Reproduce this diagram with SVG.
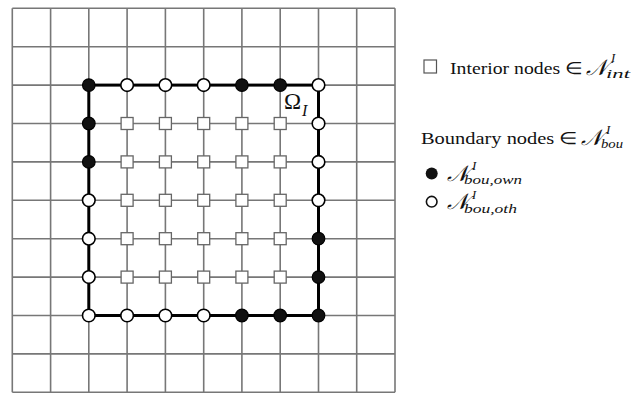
<svg xmlns="http://www.w3.org/2000/svg" width="644" height="393" viewBox="0 0 644 393">
<style>
.g{stroke:#777;stroke-width:1.6;fill:none}
.b{stroke:#000;stroke-width:3;fill:none}
.f{fill:#111;stroke:#000;stroke-width:1.2}
.o{fill:#fff;stroke:#000;stroke-width:1.6}
.sq{fill:#fff;stroke:#666;stroke-width:1.3}
</style>
<rect width="644" height="393" fill="#fff"/>
<g id="grid">
<path class="g" d="M12.3 8.3V392.3M50.6 8.3V392.3M88.8 8.3V392.3M127.1 8.3V392.3M165.4 8.3V392.3M203.7 8.3V392.3M241.9 8.3V392.3M280.2 8.3V392.3M318.5 8.3V392.3M356.7 8.3V392.3M395 8.3V392.3"/>
<path class="g" d="M12.3 8.3H395M12.3 46.7H395M12.3 85.1H395M12.3 123.5H395M12.3 161.9H395M12.3 200.3H395M12.3 238.7H395M12.3 277.1H395M12.3 315.5H395M12.3 353.9H395M12.3 392.3H395"/>
</g>
<g id="boundary">
<rect class="b" x="88.8" y="85.1" width="229.7" height="230.4"/>
</g>
<g id="interior-nodes">
<rect class="sq" x="121.1" y="117.5" width="12" height="12"/><rect class="sq" x="159.4" y="117.5" width="12" height="12"/><rect class="sq" x="197.7" y="117.5" width="12" height="12"/><rect class="sq" x="235.9" y="117.5" width="12" height="12"/><rect class="sq" x="274.2" y="117.5" width="12" height="12"/>
<rect class="sq" x="121.1" y="155.9" width="12" height="12"/><rect class="sq" x="159.4" y="155.9" width="12" height="12"/><rect class="sq" x="197.7" y="155.9" width="12" height="12"/><rect class="sq" x="235.9" y="155.9" width="12" height="12"/><rect class="sq" x="274.2" y="155.9" width="12" height="12"/>
<rect class="sq" x="121.1" y="194.3" width="12" height="12"/><rect class="sq" x="159.4" y="194.3" width="12" height="12"/><rect class="sq" x="197.7" y="194.3" width="12" height="12"/><rect class="sq" x="235.9" y="194.3" width="12" height="12"/><rect class="sq" x="274.2" y="194.3" width="12" height="12"/>
<rect class="sq" x="121.1" y="232.7" width="12" height="12"/><rect class="sq" x="159.4" y="232.7" width="12" height="12"/><rect class="sq" x="197.7" y="232.7" width="12" height="12"/><rect class="sq" x="235.9" y="232.7" width="12" height="12"/><rect class="sq" x="274.2" y="232.7" width="12" height="12"/>
<rect class="sq" x="121.1" y="271.1" width="12" height="12"/><rect class="sq" x="159.4" y="271.1" width="12" height="12"/><rect class="sq" x="197.7" y="271.1" width="12" height="12"/><rect class="sq" x="235.9" y="271.1" width="12" height="12"/><rect class="sq" x="274.2" y="271.1" width="12" height="12"/>
</g>
<g id="boundary-own">
<circle class="f" cx="88.8" cy="85.1" r="6.3"/><circle class="f" cx="241.9" cy="85.1" r="6.3"/><circle class="f" cx="280.2" cy="85.1" r="6.3"/>
<circle class="f" cx="88.8" cy="123.5" r="6.3"/><circle class="f" cx="88.8" cy="161.9" r="6.3"/>
<circle class="f" cx="318.5" cy="238.7" r="6.3"/><circle class="f" cx="318.5" cy="277.1" r="6.3"/><circle class="f" cx="318.5" cy="315.5" r="6.3"/>
<circle class="f" cx="241.9" cy="315.5" r="6.3"/><circle class="f" cx="280.2" cy="315.5" r="6.3"/>
</g>
<g id="boundary-oth">
<circle class="o" cx="127.1" cy="85.1" r="6.3"/><circle class="o" cx="165.4" cy="85.1" r="6.3"/><circle class="o" cx="203.7" cy="85.1" r="6.3"/><circle class="o" cx="318.5" cy="85.1" r="6.3"/>
<circle class="o" cx="318.5" cy="123.5" r="6.3"/><circle class="o" cx="318.5" cy="161.9" r="6.3"/><circle class="o" cx="318.5" cy="200.3" r="6.3"/>
<circle class="o" cx="88.8" cy="200.3" r="6.3"/><circle class="o" cx="88.8" cy="238.7" r="6.3"/><circle class="o" cx="88.8" cy="277.1" r="6.3"/><circle class="o" cx="88.8" cy="315.5" r="6.3"/>
<circle class="o" cx="127.1" cy="315.5" r="6.3"/><circle class="o" cx="165.4" cy="315.5" r="6.3"/><circle class="o" cx="203.7" cy="315.5" r="6.3"/>
</g>
<g id="omega-label" font-family="Liberation Serif, serif" fill="#111">
<text x="284" y="109" font-size="23">Ω</text>
<text x="302" y="116" font-size="16" font-style="italic">I</text>
</g>
<g id="legend-interior" font-family="Liberation Serif, serif" fill="#111">
<rect x="424" y="60" width="12.5" height="13" fill="#fff" stroke="#555" stroke-width="1.2"/>
<text x="450" y="73.5" font-size="16.5" textLength="133" lengthAdjust="spacingAndGlyphs">Interior nodes ∈</text>
<text x="586" y="75" font-size="22" font-style="italic">𝒩</text>
<text x="611" y="62" font-size="13" font-style="italic">I</text>
<text x="606" y="78" font-size="12" font-style="italic" textLength="24" lengthAdjust="spacingAndGlyphs">int</text>
</g>
<g id="legend-boundary" font-family="Liberation Serif, serif" fill="#111">
<text x="421" y="143.5" font-size="16.5" textLength="157" lengthAdjust="spacingAndGlyphs">Boundary nodes ∈</text>
<text x="581" y="144.5" font-size="22" font-style="italic">𝒩</text>
<text x="606" y="133.5" font-size="13" font-style="italic">I</text>
<text x="601" y="148" font-size="12" font-style="italic" textLength="22" lengthAdjust="spacingAndGlyphs">bou</text>
</g>
<g id="legend-own" font-family="Liberation Serif, serif" fill="#111">
<circle cx="431.7" cy="173.5" r="6" fill="#111"/>
<text x="447" y="180.5" font-size="22" font-style="italic">𝒩</text>
<text x="472" y="170" font-size="13" font-style="italic">I</text>
<text x="464" y="184" font-size="11.5" font-style="italic" textLength="58" lengthAdjust="spacingAndGlyphs">bou,own</text>
</g>
<g id="legend-oth" font-family="Liberation Serif, serif" fill="#111">
<circle cx="431.7" cy="201.7" r="5.3" fill="#fff" stroke="#111" stroke-width="1.6"/>
<text x="447" y="208.5" font-size="22" font-style="italic">𝒩</text>
<text x="472" y="199" font-size="12.5" font-style="italic">I</text>
<text x="464" y="213" font-size="12" font-style="italic" textLength="53" lengthAdjust="spacingAndGlyphs">bou,oth</text>
</g>
</svg>
